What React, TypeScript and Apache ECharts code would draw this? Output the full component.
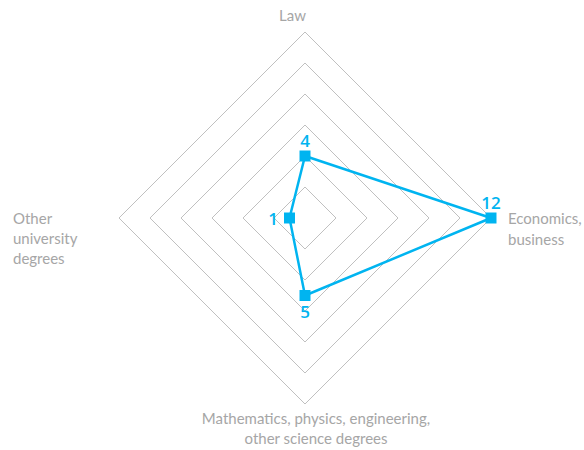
import React, { useEffect, useRef } from 'react';
import * as echarts from 'echarts';

// Indicators in ECharts radar order (counter-clockwise from top)
const indicatorNames = [
  'Law',
  'Other university degrees',
  'Mathematics, physics, engineering, other science degrees',
  'Economics, business',
];
const indicatorLines = [
  ['Law'],
  ['Other', 'university', 'degrees'],
  ['Mathematics, physics, engineering,', 'other science degrees'],
  ['Economics,', 'business'],
];
const values = [4, 1, 5, 12];
const maxValue = 12;
const labelPositions = ['top', 'left', 'bottom', 'top'];

const BLUE = '#00B4F0';
const GRAY = '#A6A6A6';
const FONT = 'Lato';

export default function App() {
  const ref = useRef<HTMLDivElement>(null);
  useEffect(() => {
    document.body.style.margin = '0';
    const chart = echarts.init(ref.current!, null, { renderer: 'svg' });
    const base = { fontFamily: FONT, fontSize: 15, color: GRAY };
    const nameStyles = ['t', 'l', 'b', 'r'];
    const spacers = [0, 2, 0, 1];
    chart.setOption({
      animation: false,
      radar: {
        center: [305, 218],
        radius: 186,
        startAngle: 90,
        shape: 'polygon',
        splitNumber: 6,
        nameGap: 4,
        indicator: indicatorNames.map((n) => ({ name: n, min: 0, max: maxValue })),
        axisLine: { show: false },
        axisTick: { show: false },
        splitArea: { show: false },
        splitLine: { lineStyle: { color: '#C0C0C0', width: 1 } },
        axisName: {
          ...base,
          formatter: (name: string) => {
            const i = indicatorNames.indexOf(name);
            const st = nameStyles[i];
            const sp = [] as string[];
            for (let k = 0; k < spacers[i]; k++) sp.push(`{s${st}| }`);
            return sp.concat(indicatorLines[i].map((l) => `{${st}|${l}}`)).join('\n');
          },
          rich: {
            t: { ...base, align: 'center', lineHeight: 20, padding: [0, 25, 6, 0] },
            b: { ...base, align: 'center', lineHeight: 20, padding: [0, 0, 0, 22] },
            r: { ...base, align: 'left', lineHeight: 21, padding: [0, 0, 0, 13] },
            l: { ...base, align: 'left', lineHeight: 20, width: 102 },
            sr: { ...base, lineHeight: 21 },
            sl: { ...base, lineHeight: 20 },
          },
        },
      },
      series: [
        {
          type: 'radar',
          symbol: 'rect',
          symbolSize: 11,
          lineStyle: { color: BLUE, width: 2.5 },
          itemStyle: { color: BLUE },
          label: { show: false },
          data: [{ value: values, name: 'main' }],
        },
        {
          type: 'radar',
          symbol: 'rect',
          symbolSize: 11,
          silent: true,
          lineStyle: { width: 0, opacity: 0 },
          itemStyle: { color: 'rgba(0,0,0,0)' },
          data: values.map((v, i) => ({
            value: values.map((x, j) => (j === i ? x : '-')),
            label: {
              show: true,
              position: labelPositions[i],
              distance: labelPositions[i] === 'left' ? 6 : 2,
              color: BLUE,
              fontSize: 17,
              fontWeight: 600,
              fontFamily: 'Open Sans',
            },
          })),
        },
      ],
    });
    return () => chart.dispose();
  }, []);
  return <div ref={ref} style={{ width: 584, height: 450 }} />;
}
